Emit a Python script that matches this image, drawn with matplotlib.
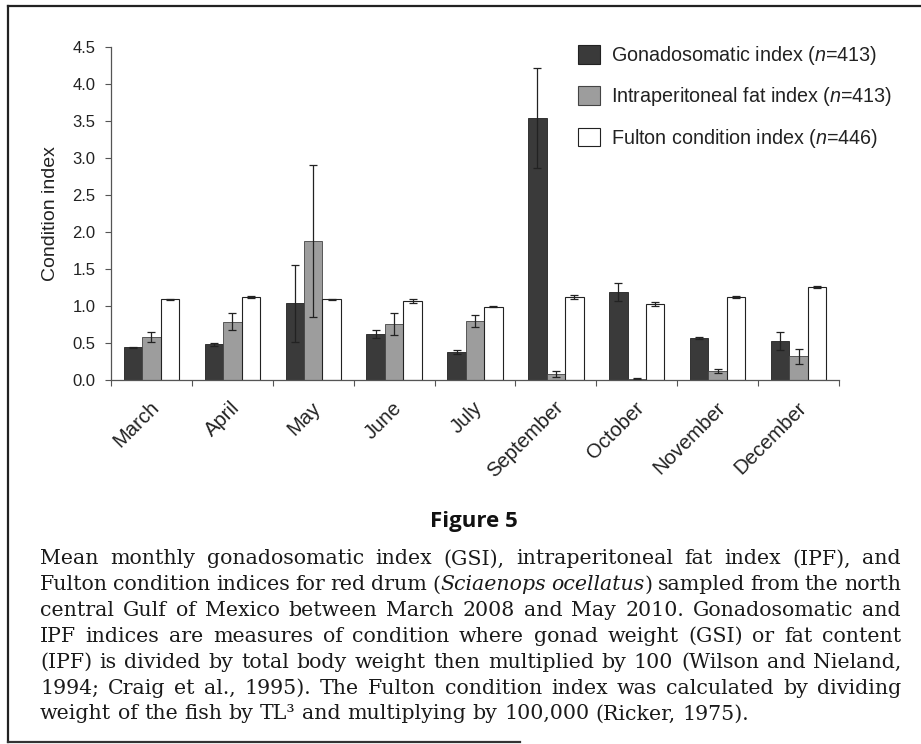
import matplotlib
matplotlib.use("Agg")
import matplotlib.pyplot as plt
import matplotlib.transforms as mtransforms
from matplotlib.patches import Patch
from matplotlib.lines import Line2D
import numpy as np

# ---------------- data ----------------
months = ["March", "April", "May", "June", "July", "September", "October", "November", "December"]
gsi = [0.44, 0.48, 1.04, 0.62, 0.38, 3.54, 1.19, 0.57, 0.53]
gsi_err = [0.01, 0.02, 0.52, 0.05, 0.03, 0.67, 0.12, 0.01, 0.12]
ipf = [0.58, 0.79, 1.88, 0.76, 0.80, 0.08, 0.02, 0.12, 0.32]
ipf_err = [0.07, 0.12, 1.03, 0.15, 0.08, 0.04, 0.01, 0.03, 0.10]
fulton = [1.09, 1.12, 1.09, 1.07, 0.99, 1.12, 1.03, 1.12, 1.26]
fulton_err = [0.01, 0.01, 0.01, 0.03, 0.005, 0.03, 0.03, 0.01, 0.01]
yticks = [0.0, 0.5, 1.0, 1.5, 2.0, 2.5, 3.0, 3.5, 4.0, 4.5]
legend_labels = [r"Gonadosomatic index ($\mathit{n}$=413)",
                 r"Intraperitoneal fat index ($\mathit{n}$=413)",
                 r"Fulton condition index ($\mathit{n}$=446)"]
caption_title = "Figure 5"
caption_lines = [
    "Mean monthly gonadosomatic index (GSI), intraperitoneal fat index (IPF), and",
    "Fulton condition indices for red drum (*Sciaenops* *ocellatus*) sampled from the north",
    "central Gulf of Mexico between March 2008 and May 2010. Gonadosomatic and",
    "IPF indices are measures of condition where gonad weight (GSI) or fat content",
    "(IPF) is divided by total body weight then multiplied by 100 (Wilson and Nieland,",
    "1994; Craig et al., 1995). The Fulton condition index was calculated by dividing",
    "weight of the fish by TL\u00b3 and multiplying by 100,000 (Ricker, 1975).",
]

plt.rcParams["font.family"] = ["Liberation Sans", "DejaVu Sans"]
plt.rcParams["mathtext.fontset"] = "custom"
plt.rcParams["mathtext.rm"] = "Liberation Sans"
plt.rcParams["mathtext.it"] = "Liberation Sans:italic"

W, H = 921, 744
fig = plt.figure(figsize=(W / 100, H / 100), dpi=100)
fig.patch.set_facecolor("white")

def fx(px):
    return px / W

def fy(py):
    return 1 - py / H

ax_left, ax_right, ax_top, ax_bot = 111, 839, 47, 380
ax = fig.add_axes([fx(ax_left), fy(ax_bot), fx(ax_right - ax_left), (ax_bot - ax_top) / H])

x = np.arange(len(months))
bw = 0.228
c_gsi, c_ipf, c_ful = "#3a3a3a", "#9d9d9d", "#ffffff"
ekw = dict(ecolor="#222222", elinewidth=0.9, capsize=3.0, capthick=0.9)
ax.bar(x - bw, gsi, bw, yerr=gsi_err, color=c_gsi, edgecolor="#222222", linewidth=0.6, error_kw=ekw)
ax.bar(x, ipf, bw, yerr=ipf_err, color=c_ipf, edgecolor="#444444", linewidth=0.6, error_kw=ekw)
ax.bar(x + bw, fulton, bw, yerr=fulton_err, color=c_ful, edgecolor="#222222", linewidth=0.8, error_kw=ekw)

ax.set_xlim(-0.5, len(months) - 0.5)
ax.set_ylim(0, 4.5)
ax.set_yticks(yticks)
ax.set_yticklabels([f"{v:.1f}" for v in yticks], fontsize=12, color="#222222")
ax.set_xticks(np.arange(len(months) + 1) - 0.5)
ax.set_xticklabels([])
ax.set_xticks(x, minor=True)
ax.set_xticklabels(months, minor=True, rotation=45, ha="right", va="top",
                   rotation_mode="anchor", fontsize=14.6, color="#222222")
ax.tick_params(axis="x", which="minor", length=0, pad=13)
ax.tick_params(axis="x", which="major", length=4, width=0.8, color="#555555", direction="out")
ax.tick_params(axis="y", length=4, width=0.8, color="#555555", direction="out", pad=7)
offset = mtransforms.ScaledTranslation(-2 / 100, 0, fig.dpi_scale_trans)
for lab in ax.get_xticklabels(minor=True):
    lab.set_transform(lab.get_transform() + offset)

for s in ["top", "right"]:
    ax.spines[s].set_visible(False)
for s in ["left", "bottom"]:
    ax.spines[s].set_color("#555555")
    ax.spines[s].set_linewidth(0.9)
ax.set_ylabel("Condition index", fontsize=14, color="#222222", labelpad=10)
ax.set_facecolor("white")

handles = [Patch(facecolor=c_gsi, edgecolor="#222222", linewidth=0.8),
           Patch(facecolor=c_ipf, edgecolor="#444444", linewidth=0.8),
           Patch(facecolor=c_ful, edgecolor="#222222", linewidth=0.8)]
fig.legend(handles, legend_labels, loc="upper left", bbox_to_anchor=(fx(578), fy(44)),
           frameon=False, fontsize=14.2, handlelength=1.1, handleheight=1.1,
           handletextpad=0.55, labelspacing=0.93, borderpad=0, borderaxespad=0,
           labelcolor="#222222")

# border lines
fig.add_artist(Line2D([fx(8), fx(8)], [fy(6), fy(742)], color="#222222", lw=1.6))
fig.add_artist(Line2D([fx(8), fx(921)], [fy(6), fy(6)], color="#222222", lw=1.6))
fig.add_artist(Line2D([fx(8), fx(520)], [fy(742), fy(742)], color="#333333", lw=1.6))

# caption
fig.text(fx(474), fy(522), caption_title, ha="center", va="center", fontsize=16,
         fontweight="bold", family=["Open Sans", "DejaVu Sans"], color="#111111")

cap_font = dict(family=["DejaVu Serif"], fontsize=14.8, color="#1a1a1a")
renderer = fig.canvas.get_renderer()

def parse_word(word, state):
    segs = []
    parts = word.split("*")
    for i, p in enumerate(parts):
        if i > 0:
            state[0] = not state[0]
        if p:
            segs.append((p, state[0]))
    return segs

def width_of(text, italic):
    t = fig.text(0, 0, text, style="italic" if italic else "normal", **cap_font)
    w = t.get_window_extent(renderer).width
    t.remove()
    return w

space_w = width_of("a a", False) - width_of("aa", False)
left_px, right_px = 40, 901
line_y0, line_dy = 557, 25.8
state = [False]
for li, line in enumerate(caption_lines):
    words = [parse_word(w, state) for w in line.split(" ")]
    wwidths = [[width_of(s, it) for s, it in wd] for wd in words]
    totals = [sum(ws) for ws in wwidths]
    natural = sum(totals)
    if li < len(caption_lines) - 1 and len(words) > 1:
        gap = (right_px - left_px - natural) / (len(words) - 1)
    else:
        gap = space_w
    xp = left_px
    yp = line_y0 + li * line_dy
    for wd, ws in zip(words, wwidths):
        xs = xp
        for (s, it), w in zip(wd, ws):
            fig.text(fx(xs), fy(yp), s, ha="left", va="center_baseline",
                     style="italic" if it else "normal", **cap_font)
            xs += w
        xp += sum(ws) + gap

fig.savefig("out.png", dpi=100, facecolor="white")
